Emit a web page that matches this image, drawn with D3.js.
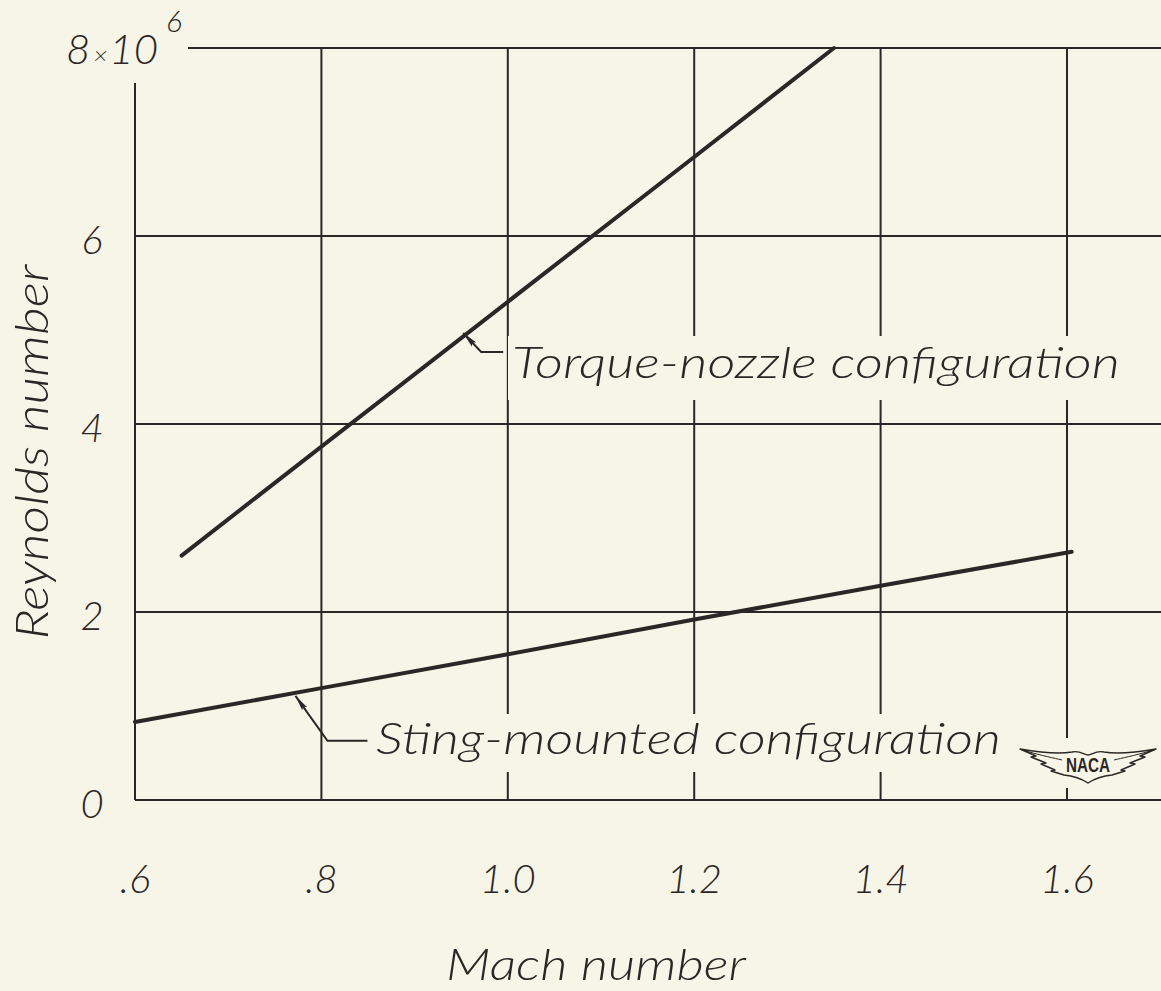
<!DOCTYPE html>
<html>
<head>
<meta charset="utf-8">
<script src="https://cdn.jsdelivr.net/npm/d3@7"></script>
<style>
  html, body { margin: 0; padding: 0; background: #f7f5e7; }
  svg { display: block; }
  text { font-family: "Lato", "Open Sans", "DejaVu Sans", sans-serif; font-style: italic; font-weight: 300; fill: #2a2726; }
</style>
</head>
<body>
<div id="chart"></div>
<script>
/* ---------------------------------------------
--------------------------------------------- */
const machTicks = [0.6, 0.8, 1.0, 1.2, 1.4, 1.6];
const machTickLabels = [".6", ".8", "1.0", "1.2", "1.4", "1.6"];
const reTicks = [0, 2, 4, 6, 8];
const reTickLabels = ["0", "2", "4", "6", "8"];

const torqueMach = [0.65, 0.8, 1.0, 1.2, 1.35];
const torqueRe   = [2.6, 3.76, 5.3, 6.84, 8.0];

const stingMach = [0.6, 0.8, 1.0, 1.2, 1.4, 1.605];
const stingRe   = [0.83, 1.19, 1.55, 1.92, 2.28, 2.64];

const torqueLabel = "Torque-nozzle configuration";
const stingLabel = "Sting-mounted configuration";

/* ---------------------------------------------
   Lienzo
--------------------------------------------- */
const width = 1161, height = 991;
const ink = "#2a2726";
const paper = "#f7f5e7";

const svg = d3.select("#chart").append("svg")
    .attr("width", width)
    .attr("height", height);

svg.append("rect")
    .attr("width", width).attr("height", height)
    .attr("fill", paper);

const x = d3.scaleLinear().domain([0.6, 1.6]).range([135, 1067]);
const y = d3.scaleLinear().domain([0, 8]).range([800, 48]);

/* ---------------------------------------------
   Rejilla
--------------------------------------------- */
const grid = svg.append("g")
    .attr("stroke", ink)
    .attr("stroke-width", 2);

grid.selectAll("line.h")
    .data(reTicks)
    .enter().append("line")
    .attr("class", "h")
    .attr("x1", d => d === 8 ? 188 : x(0.6))
    .attr("x2", width)
    .attr("y1", d => y(d))
    .attr("y2", d => y(d));

grid.selectAll("line.v")
    .data(machTicks)
    .enter().append("line")
    .attr("class", "v")
    .attr("x1", d => x(d))
    .attr("x2", d => x(d))
    .attr("y1", d => d === 0.6 ? 83 : y(8))
    .attr("y2", y(0));

/* ---------------------------------------------
   Etiquetas con flecha (hueco en la rejilla)
--------------------------------------------- */
svg.append("defs").append("marker")
    .attr("id", "arrow")
    .attr("viewBox", "0 0 16 8")
    .attr("refX", 0).attr("refY", 4)
    .attr("markerWidth", 16).attr("markerHeight", 8)
    .attr("orient", "auto")
    .attr("markerUnits", "userSpaceOnUse")
    .append("path")
    .attr("d", "M0,4 L16,1 L13,4 L16,7 Z")
    .attr("fill", ink);

function callout(mach, re, dx, dy, hx, label, tx, baseline, tLen, gapTop, gapBot) {
    svg.append("rect")
        .attr("x", tx - 4)
        .attr("y", gapTop)
        .attr("width", tLen + 10)
        .attr("height", gapBot - gapTop)
        .attr("fill", paper);

    const px = x(mach), py = y(re);
    svg.append("path")
        .attr("d", `M${px + 2},${py + 3} L${px + dx},${py + dy} L${px + dx + hx},${py + dy}`)
        .attr("fill", "none")
        .attr("stroke", ink)
        .attr("stroke-width", 2)
        .attr("marker-start", "url(#arrow)");

    svg.append("text")
        .attr("x", tx)
        .attr("y", baseline)
        .attr("font-size", 44)
        .attr("textLength", tLen)
        .attr("lengthAdjust", "spacingAndGlyphs")
        .text(label);
}

callout(0.95, 5.0, 20, 22, 22, torqueLabel, 512, 378, 608, 336, 400);
callout(0.77, 1.14, 34, 48, 40, stingLabel, 376, 754, 625, 714, 772);

/* ---------------------------------------------
   Curvas
--------------------------------------------- */
const line = d3.line()
    .x(d => x(d[0]))
    .y(d => y(d[1]));

const torque = d3.zip(torqueMach, torqueRe);
const sting = d3.zip(stingMach, stingRe);

svg.append("path")
    .datum(torque)
    .attr("d", line)
    .attr("fill", "none")
    .attr("stroke", ink)
    .attr("stroke-width", 4)
    .attr("stroke-linecap", "round");

svg.append("path")
    .datum(sting)
    .attr("d", line)
    .attr("fill", "none")
    .attr("stroke", ink)
    .attr("stroke-width", 4)
    .attr("stroke-linecap", "round");

/* ---------------------------------------------
   Logo NACA
--------------------------------------------- */
const logo = svg.append("g").attr("transform", "translate(1088,764)");
logo.append("rect")
    .attr("x", -72).attr("y", -26).attr("width", 144).attr("height", 50)
    .attr("fill", paper);
logo.append("path")
    .attr("d",
        "M-68,-15 C-45,-11 -28,-10 -16,-12 C-8,-14 -4,-9 0,-9 C4,-9 8,-14 16,-12 " +
        "C28,-10 45,-11 68,-15 " +
        "L52,-8 L57,-7 L42,-1 L47,0 L33,6 L37,7 L24,11 " +
        "C14,12 6,15 0,19 C-6,15 -14,12 -24,11 " +
        "L-37,7 L-33,6 L-47,0 L-42,-1 L-57,-7 L-52,-8 Z")
    .attr("fill", paper)
    .attr("stroke", ink)
    .attr("stroke-width", 1.4)
    .attr("stroke-linejoin", "round");
logo.append("path")
    .attr("d", "M-62,-13 C-45,-8 -34,-6 -26,-4 M62,-13 C45,-8 34,-6 26,-4")
    .attr("fill", "none")
    .attr("stroke", ink)
    .attr("stroke-width", 1);
logo.append("text")
    .attr("x", 0).attr("y", 8)
    .attr("text-anchor", "middle")
    .attr("font-size", 20)
    .attr("textLength", 44)
    .attr("lengthAdjust", "spacingAndGlyphs")
    .style("font-style", "normal")
    .style("font-weight", 700)
    .style("font-family", "'Liberation Sans', 'DejaVu Sans', sans-serif")
    .text("NACA");

/* ---------------------------------------------
   Ejes: marcas y títulos
--------------------------------------------- */
svg.append("g")
    .selectAll("text")
    .data(machTicks)
    .enter().append("text")
    .attr("x", d => x(d))
    .attr("y", 893)
    .attr("text-anchor", "middle")
    .attr("font-size", 40)
    .text((d, i) => machTickLabels[i]);

svg.append("g")
    .selectAll("text")
    .data(reTicks.slice(0, 4))
    .enter().append("text")
    .attr("x", 92)
    .attr("y", d => y(d) + 18)
    .attr("text-anchor", "middle")
    .attr("font-size", 40)
    .text((d, i) => reTickLabels[i]);

// 8 x 10^6 arriba del eje
const topLabel = svg.append("text")
    .attr("x", 66)
    .attr("y", 64)
    .attr("font-size", 42);
topLabel.append("tspan").text(reTickLabels[4]);
topLabel.append("tspan").attr("font-size", 24).attr("dx", 3).text("×");
topLabel.append("tspan").attr("dx", 2).text("10");
topLabel.append("tspan").attr("font-size", 30).attr("dx", 8).attr("dy", -32).text("6");

svg.append("text")
    .attr("x", 596)
    .attr("y", 980)
    .attr("text-anchor", "middle")
    .attr("font-size", 44)
    .attr("textLength", 300)
    .attr("lengthAdjust", "spacingAndGlyphs")
    .text("Mach number");

svg.append("text")
    .attr("transform", "translate(48,452) rotate(-90)")
    .attr("text-anchor", "middle")
    .attr("font-size", 46)
    .attr("textLength", 375)
    .attr("lengthAdjust", "spacingAndGlyphs")
    .text("Reynolds number");
</script>
</body>
</html>
